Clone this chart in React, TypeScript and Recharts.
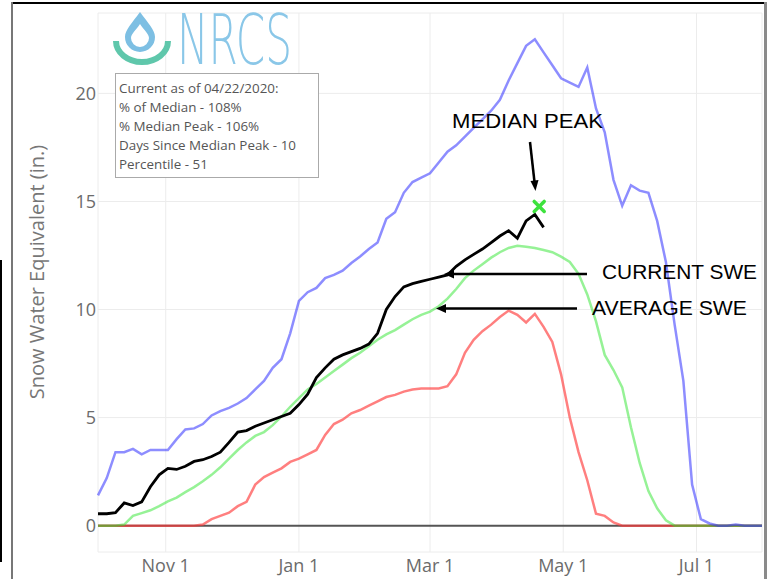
import { LineChart, Line, XAxis, YAxis, CartesianGrid, ReferenceLine, ReferenceDot } from "recharts";

// day 0 = Oct 1, 2019 (water year 2020)
const days = [
  0, 4, 8, 12, 16, 20, 24, 28, 32, 36, 40, 44, 48, 52, 56, 60, 64, 68, 72, 76,
  80, 84, 88, 92, 96, 100, 104, 108, 112, 116, 120, 124, 128, 132, 136, 140, 144, 148, 152, 156,
  160, 164, 168, 172, 176, 180, 184, 188, 192, 196, 200, 204, 208, 212, 216, 220, 224, 228, 232, 236,
  240, 244, 248, 252, 256, 260, 264, 268, 272, 276, 280, 284, 288, 292, 296, 300, 304,
];

const maxSwe = [
  1.4, 2.2, 3.4, 3.4, 3.55, 3.3, 3.5, 3.5, 3.5, 4.0,
  4.45, 4.5, 4.7, 5.1, 5.3, 5.45, 5.65, 5.9, 6.3, 6.7,
  7.3, 7.7, 8.9, 10.4, 10.8, 11.0, 11.45, 11.6, 11.8, 12.15,
  12.45, 12.8, 13.1, 14.2, 14.5, 15.4, 15.9, 16.1, 16.3, 16.8,
  17.3, 17.6, 18.0, 18.4, 18.8, 19.2, 19.7, 20.6, 21.4, 22.2,
  22.5, 21.9, 21.3, 20.7, 20.5, 20.3, 21.2, 19.3, 18.2, 16.0,
  14.8, 15.75, 15.5, 15.4, 14.1, 12.2, 9.3, 6.7, 1.9, 0.3,
  0.1, 0, 0, 0.05, 0, 0, 0,
];

const medianSwe = [
  0, 0, 0, 0.05, 0.45, 0.58, 0.71, 0.9, 1.12, 1.3,
  1.55, 1.78, 2.05, 2.35, 2.7, 3.1, 3.5, 3.85, 4.15, 4.33,
  4.65, 5.05, 5.5, 5.9, 6.3, 6.55, 6.85, 7.15, 7.45, 7.75,
  8.0, 8.3, 8.6, 8.85, 9.05, 9.3, 9.55, 9.75, 9.9, 10.15,
  10.5, 10.95, 11.45, 11.8, 12.1, 12.4, 12.65, 12.85, 12.95, 12.9,
  12.85, 12.75, 12.65, 12.45, 12.2, 11.65, 10.7, 9.45, 7.9, 7.2,
  6.4, 4.55, 2.9, 1.6, 0.8, 0.25, 0, 0, 0, 0,
  0, 0, 0, 0, 0, 0, 0,
];

const minSwe = [
  0, 0, 0, 0, 0, 0, 0, 0, 0, 0,
  0, 0, 0.05, 0.3, 0.45, 0.6, 0.9, 1.1, 1.9, 2.25,
  2.45, 2.65, 2.95, 3.1, 3.3, 3.5, 4.2, 4.7, 4.9, 5.2,
  5.35, 5.55, 5.75, 5.95, 6.05, 6.2, 6.3, 6.35, 6.35, 6.35,
  6.45, 7.0, 8.0, 8.6, 9.0, 9.3, 9.65, 9.95, 9.75, 9.4,
  9.8, 9.2, 8.5, 7.0, 5.0, 3.4, 2.1, 0.55, 0.45, 0.15,
  0, 0, 0, 0, 0, 0, 0, 0, 0, 0,
  0, 0, 0, 0, 0, 0, 0,
];

// WY2020 through 04/22/2020
const currentSwe = [
  0.55, 0.55, 0.6, 1.05, 0.93, 1.1, 1.8, 2.35, 2.65, 2.6,
  2.75, 2.97, 3.05, 3.2, 3.4, 3.85, 4.33, 4.4, 4.6, 4.75,
  4.9, 5.05, 5.2, 5.6, 6.08, 6.85, 7.3, 7.7, 7.9, 8.05,
  8.2, 8.4, 8.9, 10.0, 10.6, 11.05, 11.2, 11.3, 11.4, 11.5,
  11.6, 12.0, 12.3, 12.55, 12.8, 13.1, 13.4, 13.65, 13.3, 14.1,
  14.4, 13.8,
];

const tickDays = [31, 92, 152, 213, 274];
const tickLabels = ["Nov 1", "Jan 1", "Mar 1", "May 1", "Jul 1"];
const yTicks = [0, 5, 10, 15, 20];
const medianPeakDay = 202;
const medianPeakValue = 14.77;

const infoLines = [
  "Current as of 04/22/2020:",
  "% of Median - 108%",
  "% Median Peak - 106%",
  "Days Since Median Peak - 10",
  "Percentile - 51",
];

const data = days.map((day, i) => ({
  day,
  max: maxSwe[i],
  median: medianSwe[i],
  min: minSwe[i],
  current: i < currentSwe.length ? currentSwe[i] : null,
}));

const PeakMarker = ({ cx, cy }: any) => (
  <g stroke="#3de23d" strokeWidth={3.5} strokeLinecap="round">
    <line x1={cx - 5} y1={cy - 5} x2={cx + 5} y2={cy + 5} />
    <line x1={cx - 5} y1={cy + 5} x2={cx + 5} y2={cy - 5} />
  </g>
);

const tickStyle = { fontSize: 18, fill: "#6b6b6b", fontFamily: "Open Sans" };

const App = () => {
  return (
    <div style={{ position: "absolute", left: 0, top: 0, width: 769, height: 579, background: "#fff", overflow: "hidden" }}>
      <LineChart width={769} height={579} data={data} margin={{ top: 13, right: 7, bottom: 0, left: 0 }}>
        <CartesianGrid stroke="#ececec" strokeWidth={1} />
        <XAxis
          dataKey="day"
          type="number"
          domain={[0, 304]}
          ticks={tickDays}
          tickFormatter={(v: number) => tickLabels[tickDays.indexOf(v)]}
          axisLine={false}
          tickLine={false}
          tickSize={0}
          tickMargin={7}
          height={27}
          tick={tickStyle}
          interval={0}
        />
        <YAxis
          type="number"
          domain={[-1.22, 23.72]}
          ticks={yTicks}
          allowDataOverflow
          axisLine={false}
          tickLine={false}
          tickSize={0}
          tickMargin={2}
          width={98}
          tick={tickStyle}
          interval={0}
        />
        <ReferenceLine y={0} stroke="#555" strokeWidth={2} />
        <Line type="linear" dataKey="min" stroke="#ff3b3b" strokeOpacity={0.65} strokeWidth={2.5} dot={false} isAnimationActive={false} />
        <Line type="linear" dataKey="median" stroke="#2ee62e" strokeOpacity={0.5} strokeWidth={2.5} dot={false} isAnimationActive={false} />
        <Line type="linear" dataKey="max" stroke="#3030ff" strokeOpacity={0.55} strokeWidth={2.5} dot={false} isAnimationActive={false} />
        <Line type="linear" dataKey="current" stroke="#000" strokeWidth={2.8} dot={false} isAnimationActive={false} />
        <ReferenceDot x={medianPeakDay} y={medianPeakValue} shape={PeakMarker} />
      </LineChart>

      <svg width={769} height={579} style={{ position: "absolute", left: 0, top: 0, pointerEvents: "none" }}>
        {/* logo */}
        <path d="M116,41 A26,21 0 0 0 168,41" fill="none" stroke="#5fc7ab" strokeWidth={6} />
        <path d="M140,12 C132,23 125,30 125,37 A15,15 0 0 0 155,37 C155,30 148,23 140,12 Z" fill="#7dbfe3" />
        <path d="M140,24 C136,30 131,34 131,38 A9,9 0 0 0 149,38 C149,34 144,30 140,24 Z" fill="#fff" />
        <text x={177} y={64} fontSize={70} fontFamily="'DejaVu Sans', sans-serif" fontWeight={300} fill="#8ac7e8" textLength={115} lengthAdjust="spacingAndGlyphs">NRCS</text>

        {/* info box */}
        <rect x={115.5} y={73.5} width={203} height={104} fill="#fff" stroke="#aaa" strokeWidth={1} />
        {infoLines.map((t, i) => (
          <text key={t} x={119} y={93 + i * 19.1} fontSize={13.4} fontFamily="Open Sans" fill="#555">{t}</text>
        ))}

        {/* y axis title */}
        <text transform="translate(44,272) rotate(-90)" textAnchor="middle" fontSize={20} fontFamily="Open Sans" fill="#777">
          Snow Water Equivalent (in.)
        </text>

        {/* annotations */}
        <g fontFamily="'Liberation Sans', Arial, sans-serif" fontSize={21} fill="#000">
          <text x={452} y={128} textLength={151} lengthAdjust="spacingAndGlyphs">MEDIAN PEAK</text>
          <text x={602} y={279} textLength={155} lengthAdjust="spacingAndGlyphs">CURRENT SWE</text>
          <text x={592} y={315} textLength={155} lengthAdjust="spacingAndGlyphs">AVERAGE SWE</text>
        </g>
        <g stroke="#000" strokeWidth={2.5}>
          <line x1={530} y1={142} x2={534.5} y2={182} />
          <line x1={587} y1={274} x2={452} y2={274} />
          <line x1={577} y1={308.5} x2={444} y2={308.5} />
        </g>
        <g fill="#000">
          <polygon points="535.5,191 530.5,181 538.5,180" />
          <polygon points="444,274 454,269.5 454,278.5" />
          <polygon points="436,308.5 446,304 446,313" />
        </g>
      </svg>

      {/* frame */}
      <div style={{ position: "absolute", left: 12, top: 2, width: 754, height: 2, background: "#000" }} />
      <div style={{ position: "absolute", left: 11, top: 2, width: 2, height: 577, background: "#777" }} />
      <div style={{ position: "absolute", left: 764, top: 2, width: 3, height: 577, background: "#8a8a8a" }} />
      <div style={{ position: "absolute", left: 0, top: 260, width: 2, height: 302, background: "#000" }} />
    </div>
  );
};

export default App;
